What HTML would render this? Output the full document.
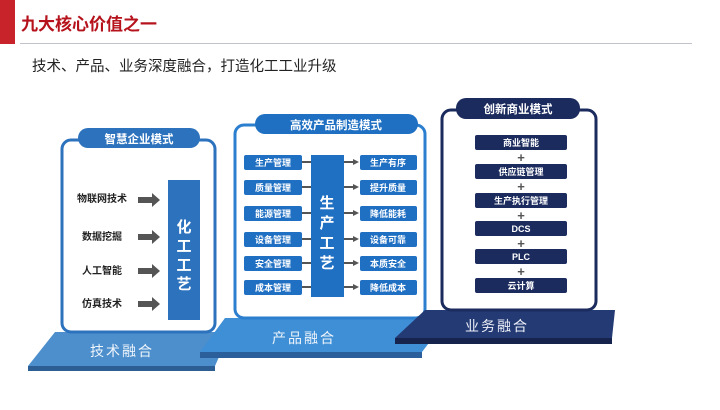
<!DOCTYPE html>
<html><head><meta charset="utf-8"><style>
html,body{margin:0;padding:0;background:#fff;}
body{width:720px;height:405px;overflow:hidden;position:relative;font-family:"Liberation Sans","Noto Sans CJK SC",sans-serif;}
svg text{font-family:"Liberation Sans","Noto Sans CJK SC",sans-serif;}
</style></head><body>
<svg width="720" height="405" viewBox="0 0 720 405" xmlns="http://www.w3.org/2000/svg">
<rect x="0" y="0" width="15" height="44" fill="#c8222b"/>
<text x="21" y="30" font-size="17" font-weight="bold" fill="#b5121b">九大核心价值之一</text>
<line x1="20" y1="43.5" x2="692" y2="43.5" stroke="#c0c3cc" stroke-width="1"/>
<text x="32" y="71" font-size="14.5" fill="#222">技术、产品、业务深度融合，打造化工工业升级</text>

<polygon points="28,366 215,366 215,371 28,371" fill="#2c5e93"/>
<polygon points="55,332 230,332 215,366 28,366" fill="#4d8fcc"/>
<text x="90" y="356" font-size="14" fill="#eef4fb" letter-spacing="2">技术融合</text>
<rect x="62" y="140" width="153" height="192" rx="9" fill="#fff" stroke="#2c72bd" stroke-width="3"/>
<rect x="78" y="128" width="122" height="20" rx="10" fill="#2c72bd"/>
<text x="139" y="143" font-size="11.5" font-weight="bold" fill="#fff" text-anchor="middle">智慧企业模式</text>
<g font-size="10" font-weight="bold" fill="#222" text-anchor="middle">
<text x="102" y="202">物联网技术</text>
<text x="102" y="240">数据挖掘</text>
<text x="102" y="274">人工智能</text>
<text x="102" y="307">仿真技术</text>
</g>
<g fill="#555">
<polygon points="138,197 152,197 152,193 160,200 152,207 152,203 138,203"/>
<polygon points="138,234 152,234 152,230 160,237 152,244 152,240 138,240"/>
<polygon points="138,268 152,268 152,264 160,271 152,278 152,274 138,274"/>
<polygon points="138,301 152,301 152,297 160,304 152,311 152,307 138,307"/>
</g>
<rect x="168" y="180" width="32" height="140" fill="#2c72bd"/>
<g font-size="15" font-weight="bold" fill="#fff" text-anchor="middle">
<text x="184" y="232">化</text><text x="184" y="251">工</text><text x="184" y="270">工</text><text x="184" y="289">艺</text>
</g>

<polygon points="200,352 422,352 422,358 200,358" fill="#2a5f9c"/>
<polygon points="225,318 448,318 422,352 200,352" fill="#3f8fd6"/>
<text x="272" y="343" font-size="14" fill="#eef4fb" letter-spacing="2">产品融合</text>
<rect x="235" y="125" width="190" height="193" rx="9" fill="#fff" stroke="#2c7fcf" stroke-width="3"/>
<rect x="255" y="114" width="163" height="20" rx="10" fill="#1f6fc2"/>
<text x="336" y="129" font-size="11.5" font-weight="bold" fill="#fff" text-anchor="middle">高效产品制造模式</text>
<g fill="#1f6fc2">
<rect x="244" y="155" width="58" height="15" rx="2"/><rect x="244" y="180" width="58" height="15" rx="2"/><rect x="244" y="206" width="58" height="15" rx="2"/><rect x="244" y="232" width="58" height="15" rx="2"/><rect x="244" y="256" width="58" height="15" rx="2"/><rect x="244" y="280" width="58" height="15" rx="2"/>
<rect x="360" y="155" width="57" height="15" rx="2"/><rect x="360" y="180" width="57" height="15" rx="2"/><rect x="360" y="206" width="57" height="15" rx="2"/><rect x="360" y="232" width="57" height="15" rx="2"/><rect x="360" y="256" width="57" height="15" rx="2"/><rect x="360" y="280" width="57" height="15" rx="2"/>
</g>
<g font-size="9" font-weight="bold" fill="#fff" text-anchor="middle">
<text x="273" y="166">生产管理</text><text x="273" y="191">质量管理</text><text x="273" y="217">能源管理</text><text x="273" y="243">设备管理</text><text x="273" y="267">安全管理</text><text x="273" y="291">成本管理</text>
<text x="388" y="166">生产有序</text><text x="388" y="191">提升质量</text><text x="388" y="217">降低能耗</text><text x="388" y="243">设备可靠</text><text x="388" y="267">本质安全</text><text x="388" y="291">降低成本</text>
</g>
<g stroke="#555" stroke-width="2">
<line x1="302" y1="162" x2="311" y2="162"/><line x1="302" y1="187" x2="311" y2="187"/><line x1="302" y1="213" x2="311" y2="213"/><line x1="302" y1="239" x2="311" y2="239"/><line x1="302" y1="263" x2="311" y2="263"/><line x1="302" y1="287" x2="311" y2="287"/>
<line x1="344" y1="162" x2="354" y2="162"/><line x1="344" y1="187" x2="354" y2="187"/><line x1="344" y1="213" x2="354" y2="213"/><line x1="344" y1="239" x2="354" y2="239"/><line x1="344" y1="263" x2="354" y2="263"/><line x1="344" y1="287" x2="354" y2="287"/>
</g>
<g fill="#555">
<polygon points="353,159 359,162 353,165"/><polygon points="353,184 359,187 353,190"/><polygon points="353,210 359,213 353,216"/><polygon points="353,236 359,239 353,242"/><polygon points="353,260 359,263 353,266"/><polygon points="353,284 359,287 353,290"/>
</g>
<rect x="311" y="155" width="33" height="142" fill="#1f6fc2"/>
<g font-size="15" font-weight="bold" fill="#fff" text-anchor="middle">
<text x="327" y="208">生</text><text x="327" y="228">产</text><text x="327" y="248">工</text><text x="327" y="268">艺</text>
</g>

<polygon points="395,338 612,338 612,344 395,344" fill="#15234d"/>
<polygon points="425,310 615,310 612,338 395,338" fill="#233a74"/>
<text x="465" y="331" font-size="14" fill="#eef0f8" letter-spacing="2">业务融合</text>
<rect x="442" y="110" width="154" height="200" rx="9" fill="#fff" stroke="#1b2b5e" stroke-width="3"/>
<rect x="456" y="98" width="124" height="21" rx="10" fill="#1b2b5e"/>
<text x="518" y="113" font-size="11.5" font-weight="bold" fill="#fff" text-anchor="middle">创新商业模式</text>
<g fill="#1b2b5e">
<rect x="475" y="135" width="92" height="15" rx="2"/><rect x="475" y="164" width="92" height="15" rx="2"/><rect x="475" y="193" width="92" height="15" rx="2"/><rect x="475" y="221" width="92" height="15" rx="2"/><rect x="475" y="249" width="92" height="15" rx="2"/><rect x="475" y="278" width="92" height="15" rx="2"/>
</g>
<g font-size="9" font-weight="bold" fill="#fff" text-anchor="middle">
<text x="521" y="146">商业智能</text><text x="521" y="175">供应链管理</text><text x="521" y="204">生产执行管理</text><text x="521" y="232">DCS</text><text x="521" y="260">PLC</text><text x="521" y="289">云计算</text>
</g>
<g font-size="13" font-weight="bold" fill="#555" text-anchor="middle">
<text x="521" y="162">+</text><text x="521" y="191">+</text><text x="521" y="220">+</text><text x="521" y="248">+</text><text x="521" y="276">+</text>
</g>
</svg>
</body></html>
